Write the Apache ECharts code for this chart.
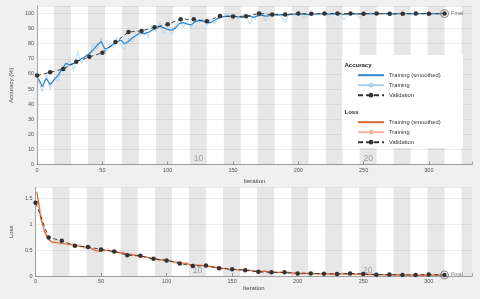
<!DOCTYPE html>
<html><head><meta charset="utf-8">
<script src="https://cdn.jsdelivr.net/npm/echarts@6/dist/echarts.min.js"></script>
<style>html,body{margin:0;padding:0;background:#f0f0f0}#c{width:480px;height:299px}</style>
</head><body><div id="c"></div>
<script>
// ---------------- data ----------------
const epochLength = 13;          // iterations per epoch
const xMax = 333;                // axis limit (iterations)
const epochLabels = [10, 20];
const trainStep = 3;             // training samples every 3 iterations, starting at 1
const trainFirst = 1;

const accSmooth = [
 57, 51.5, 57, 53, 56, 59, 63, 67, 66, 67,
 68.5, 70, 71.5, 73.5, 76, 79, 81.5, 76.5, 77.5, 79.5,
 81, 82.5, 80, 81.5, 84, 85.5, 87.5, 86.5, 87.5, 89,
 90.5, 91.5, 90.5, 89.5, 89, 90.5, 93.5, 94, 93, 92.5,
 94.5, 95.5, 95, 94, 94, 95.5, 97, 97.8, 98.2, 98.3,
 98.3, 97.8, 97.5, 97.8, 98.3, 97.5, 98.5, 99, 98.3, 98.6,
 99.2, 99, 99.3, 98.8, 99.2, 99.5, 99.6, 99.7, 99.5, 99.3,
 99.6, 99.7, 99.8, 99.8, 99.6, 99.8, 99.9, 99.7, 99.4, 99.6,
 99.8, 99.9, 99.6, 99.7, 99.9, 99.9, 100, 99.9, 99.9, 100,
 99.9, 99.8, 99.9, 100, 100, 99.9, 100, 100, 99.9, 100,
 100, 99.9, 100, 100];
const accRaw = [
 56, 48, 60, 50, 58, 55, 66, 63, 70, 62,
 75, 67, 72, 70, 80, 76, 84, 73, 80, 77,
 84, 80, 76, 84, 81, 89, 85, 90, 84, 92,
 88, 94, 87, 90, 86, 92, 96, 91, 95, 90,
 97, 94, 97, 92, 96, 93, 99, 97, 100, 97,
 99, 96, 99, 98, 93, 100, 98, 100, 95, 100,
 99, 100, 98, 94, 100, 100, 99, 100, 97, 100,
 100, 99, 100, 100, 98, 100, 100, 99, 96, 100,
 100, 100, 97, 100, 100, 99, 100, 100, 100, 100,
 99, 100, 100, 100, 100, 99, 100, 100, 100, 100,
 100, 100, 100, 100];
const lossSmooth = [
 1.62, 1.10, 0.85, 0.70, 0.65, 0.64, 0.63, 0.62, 0.61, 0.60,
 0.59, 0.57, 0.56, 0.55, 0.53, 0.49, 0.47, 0.50, 0.49, 0.48,
 0.47, 0.45, 0.44, 0.42, 0.41, 0.40, 0.38, 0.37, 0.36, 0.34,
 0.33, 0.31, 0.31, 0.30, 0.29, 0.27, 0.26, 0.25, 0.24, 0.22,
 0.21, 0.21, 0.20, 0.19, 0.18, 0.17, 0.16, 0.15, 0.14, 0.13,
 0.13, 0.12, 0.12, 0.11, 0.11, 0.10, 0.09, 0.09, 0.09, 0.08,
 0.08, 0.07, 0.07, 0.07, 0.06, 0.06, 0.05, 0.05, 0.05, 0.05,
 0.045, 0.045, 0.04, 0.04, 0.04, 0.04, 0.035, 0.04, 0.04, 0.035,
 0.035, 0.035, 0.035, 0.03, 0.03, 0.03, 0.025, 0.025, 0.025, 0.02,
 0.02, 0.02, 0.02, 0.02, 0.02, 0.02, 0.018, 0.018, 0.015, 0.015,
 0.015, 0.015, 0.015, 0.015];
const lossRaw = [
 1.58, 1.25, 0.80, 0.72, 0.62, 0.70, 0.60, 0.66, 0.58, 0.64,
 0.55, 0.62, 0.52, 0.58, 0.50, 0.45, 0.52, 0.46, 0.54, 0.45,
 0.50, 0.42, 0.47, 0.40, 0.44, 0.37, 0.42, 0.34, 0.38, 0.31,
 0.36, 0.28, 0.34, 0.27, 0.32, 0.24, 0.28, 0.22, 0.27, 0.19,
 0.25, 0.18, 0.23, 0.16, 0.21, 0.14, 0.18, 0.12, 0.16, 0.10,
 0.15, 0.09, 0.14, 0.08, 0.13, 0.07, 0.11, 0.06, 0.12, 0.05,
 0.09, 0.05, 0.08, 0.04, 0.09, 0.03, 0.06, 0.03, 0.07, 0.02,
 0.05, 0.03, 0.04, 0.02, 0.05, 0.02, 0.03, 0.04, 0.06, 0.02,
 0.03, 0.02, 0.05, 0.02, 0.02, 0.03, 0.01, 0.02, 0.02, 0.01,
 0.02, 0.01, 0.02, 0.01, 0.01, 0.02, 0.01, 0.01, 0.01, 0.01,
 0.01, 0.01, 0.01, 0.01];

const valIter = [0,10,20,30,40,50,60,70,80,90,100,110,120,130,140,150,160,170,180,190,200,210,220,230,240,250,260,270,280,290,300,312];
const valAcc = [58.9, 61.1, 63.3, 68.0, 71.3, 74.0, 81.1, 87.8, 88.5, 90.9, 92.9, 96.2, 96.2, 94.9, 98.4, 98.0,
 98.2, 100, 99.3, 99.3, 100, 99.8, 100, 100, 100, 99.8, 100, 99.8, 99.8, 100, 99.8, 100];
const valLoss = [1.41, 0.74, 0.68, 0.58, 0.56, 0.51, 0.47, 0.40, 0.39, 0.33, 0.30, 0.24, 0.19, 0.20, 0.15, 0.13,
 0.11, 0.08, 0.07, 0.07, 0.05, 0.05, 0.045, 0.04, 0.05, 0.04, 0.025, 0.03, 0.02, 0.02, 0.03, 0.02];

// ---------------- build ----------------
const trainIter = accSmooth.map((_, i) => trainFirst + i * trainStep);
const pairs = (xs, ys) => xs.map((x, i) => [x, ys[i]]);
const bands = [];
for (let k = 2; (k - 1) * epochLength < xMax; k += 2) {
  bands.push([{ xAxis: (k - 1) * epochLength }, { xAxis: Math.min(k * epochLength, xMax) }]);
}
const C = {
  accS: '#2f87cb', accR: '#a9d0ef', lossS: '#dd6631', lossR: '#f4b59a', val: '#333333',
  axis: '#8a8a8a', text: '#505050'
};
const FONT = 'Liberation Sans';

function xAx(gi, gap) {
  return {
    type: 'value', gridIndex: gi, min: 0, max: xMax, interval: 50,
    axisLine: { lineStyle: { color: C.axis, width: 0.8 } },
    axisTick: { inside: true, length: 3, lineStyle: { color: C.axis, width: 0.8 } },
    axisLabel: { fontSize: 5.5, color: C.text, margin: 2.5, fontFamily: FONT,
      formatter: v => (v % 50 === 0 ? String(v) : '') },
    splitLine: { show: false },
    name: 'Iteration', nameLocation: 'middle', nameGap: gap,
    nameTextStyle: { fontSize: 6, color: '#444', fontFamily: FONT }
  };
}
function yAx(gi, max, interval, name, gap) {
  return {
    type: 'value', gridIndex: gi, min: 0, max: max, interval: interval,
    axisLine: { show: true, lineStyle: { color: C.axis, width: 0.8 } },
    axisTick: { show: false },
    axisLabel: { fontSize: 5.5, color: C.text, margin: 3, fontFamily: FONT,
      formatter: v => (Math.abs(v / interval - Math.round(v / interval)) < 1e-6 && v < max - 1e-9 ? String(+v.toFixed(2)) : '') },
    splitLine: { lineStyle: { color: '#e2e2e2', width: 0.6 } },
    name: name, nameLocation: 'middle', nameGap: gap,
    nameTextStyle: { fontSize: 6, color: '#444', fontFamily: FONT }
  };
}
function bandSeries(gi) {
  return { type: 'line', xAxisIndex: gi, yAxisIndex: gi, data: [], silent: true, z: 1,
    markArea: { silent: true, itemStyle: { color: 'rgba(0,0,0,0.095)' }, data: bands } };
}
function epochSeries(gi) {
  return { type: 'scatter', xAxisIndex: gi, yAxisIndex: gi, symbolSize: 0, silent: true, z: 2,
    data: epochLabels.map(e => [(e - 0.5) * epochLength, 0, e]),
    label: { show: true, position: 'top', distance: 1, formatter: p => String(p.value[2]),
      fontSize: 8.5, color: '#8c8c8c', fontFamily: FONT } };
}
function finalSeries(gi, val) {
  return { type: 'scatter', xAxisIndex: gi, yAxisIndex: gi, symbol: 'circle', symbolSize: 8, z: 7, silent: true,
    data: [[valIter[valIter.length - 1], val[val.length - 1]]],
    itemStyle: { color: 'rgba(0,0,0,0)', borderColor: '#666', borderWidth: 1 },
    label: { show: true, position: 'right', distance: 2, formatter: 'Final', fontSize: 5.5, color: '#555', fontFamily: FONT } };
}
const noMarker = { color: 'rgba(0,0,0,0)', borderWidth: 0, opacity: 0 };
function legendCfg(prefix, top) {
  return {
    data: [
      { name: prefix + 'Training (smoothed)', itemStyle: noMarker },
      { name: prefix + 'Training' },
      { name: prefix + 'Validation', lineStyle: { type: [5, 3] } }
    ],
    orient: 'vertical', left: 357, top: top,
    itemWidth: 26, itemHeight: 6, itemGap: 4, padding: 0, selectedMode: false, z: 60,
    formatter: n => n.replace('Loss ', ''),
    textStyle: { fontSize: 5.8, color: '#333', fontFamily: FONT }
  };
}

const option = {
  backgroundColor: '#f0f0f0',
  animation: false,
  grid: [
    { left: 32.5, width: 439.5, top: 6, height: 158.5, backgroundColor: '#fff', show: true, borderWidth: 0 },
    { left: 32.5, width: 439.5, top: 187.6, height: 88.4, backgroundColor: '#fff', show: true, borderWidth: 0 }
  ],
  xAxis: [xAx(0, 10.5), xAx(1, 9.5)],
  yAxis: [yAx(0, 105, 10, 'Accuracy (%)', 8.5), yAx(1, 1.7, 0.5, 'Loss', 8)],
  legend: [legendCfg('', 72.2), legendCfg('Loss ', 119.2)],
  graphic: [
    { type: 'rect', shape: { x: 342, y: 55, width: 121, height: 93 }, style: { fill: '#fff' }, z: 50, silent: true },
    { type: 'text', x: 344.5, y: 62.5, z: 60, style: { text: 'Accuracy', fontSize: 6, fontWeight: 'bold', fill: '#222', fontFamily: FONT } },
    { type: 'text', x: 344.5, y: 109.5, z: 60, style: { text: 'Loss', fontSize: 6, fontWeight: 'bold', fill: '#222', fontFamily: FONT } }
  ],
  series: [
    bandSeries(0), bandSeries(1),
    epochSeries(0), epochSeries(1),
    { name: 'Training', type: 'line', xAxisIndex: 0, yAxisIndex: 0, data: pairs(trainIter, accRaw),
      symbol: 'circle', symbolSize: 4, showSymbol: false, z: 3,
      lineStyle: { color: C.accR, width: 0.8 }, itemStyle: { color: C.accR } },
    { name: 'Training (smoothed)', type: 'line', xAxisIndex: 0, yAxisIndex: 0, data: pairs(trainIter, accSmooth),
      symbol: 'none', z: 4, lineStyle: { color: C.accS, width: 1.2 }, itemStyle: { color: C.accS } },
    { name: 'Validation', type: 'line', xAxisIndex: 0, yAxisIndex: 0, data: pairs(valIter, valAcc),
      symbol: 'circle', symbolSize: 4.5, z: 5,
      lineStyle: { color: C.val, width: 0.9, type: [4, 3] }, itemStyle: { color: C.val } },
    finalSeries(0, valAcc),
    { name: 'Loss Training', type: 'line', xAxisIndex: 1, yAxisIndex: 1, data: pairs(trainIter, lossRaw),
      symbol: 'circle', symbolSize: 4, showSymbol: false, z: 3,
      lineStyle: { color: C.lossR, width: 0.8 }, itemStyle: { color: C.lossR } },
    { name: 'Loss Training (smoothed)', type: 'line', xAxisIndex: 1, yAxisIndex: 1, data: pairs(trainIter, lossSmooth),
      symbol: 'none', z: 4, lineStyle: { color: C.lossS, width: 1.2 }, itemStyle: { color: C.lossS } },
    { name: 'Loss Validation', type: 'line', xAxisIndex: 1, yAxisIndex: 1, data: pairs(valIter, valLoss),
      symbol: 'circle', symbolSize: 4.5, z: 5,
      lineStyle: { color: C.val, width: 0.9, type: [4, 3] }, itemStyle: { color: C.val } },
    finalSeries(1, valLoss)
  ]
};
const chart = echarts.init(document.getElementById('c'), null, { renderer: 'canvas' });
chart.setOption(option);
</script></body></html>
